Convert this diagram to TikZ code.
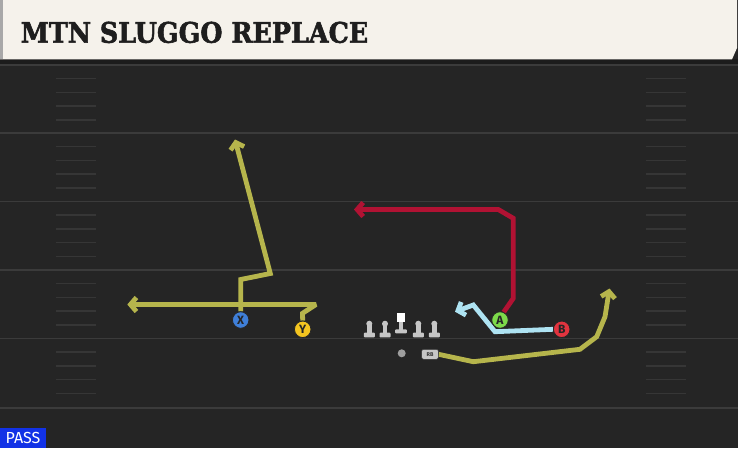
\documentclass[tikz,border=0pt]{standalone}
\usepackage{fontspec}
\setmainfont{DejaVu Serif}
\newfontfamily\titlefont{DejaVu Serif}[BoldFeatures={FakeBold=2}]
\newfontfamily\labelfont{Fira Sans}
\usetikzlibrary{arrows.meta}
\definecolor{fieldbg}{HTML}{252525}
\definecolor{bandc}{HTML}{1C1C1C}
\definecolor{yardc}{HTML}{3B3B3B}
\definecolor{hashc}{HTML}{363636}
\definecolor{headerc}{HTML}{F5F2EB}
\definecolor{stripc}{HTML}{A8A8A8}
\definecolor{titlec}{HTML}{1E1E1E}
\definecolor{yroute}{HTML}{B6B54C}
\definecolor{rroute}{HTML}{B11233}
\definecolor{broute}{HTML}{AEE3F2}
\definecolor{xblue}{HTML}{3F7FD8}
\definecolor{ygold}{HTML}{F4C520}
\definecolor{agreen}{HTML}{7DDA4A}
\definecolor{bred}{HTML}{E2343F}
\definecolor{olgray}{HTML}{C6C6C6}
\definecolor{passblue}{HTML}{1232E6}
\pgfdeclarelayer{fieldlayer}
\pgfdeclarelayer{routelayer}
\pgfsetlayers{fieldlayer,routelayer,main}
\begin{document}
\begin{tikzpicture}[x=1pt,y=-1pt,
  yardline/.style={draw=yardc,line width=1.6pt},
  hashmark/.style={draw=hashc,line width=1.5pt},
  route/.style={line width=4.8pt,line join=miter,miter limit=2,-{Straight Barb[length=6pt,width=14pt]}},
  player/.style={circle,minimum size=16.5pt,inner sep=0pt,draw=black!85,line width=0.8pt,
    font=\labelfont\bfseries\fontsize{12}{12}\selectfont,text=black!85},
  rbbox/.style={rounded corners=2pt,minimum width=16.7pt,minimum height=10pt,inner sep=0pt,
    fill=olgray,draw=black!80,line width=0.5pt,font=\labelfont\bfseries\fontsize{5.5}{5.5}\selectfont,text=black!80},
  lineman/.pic={
    \fill[olgray] (0,-5.3) circle (3);
    \fill[olgray] (-2.3,-5) rectangle (2.3,4.5);
    \fill[olgray,rounded corners=0.8pt] (-5.5,3.7) rectangle (5.5,8.3);
  },
  centerman/.pic={
    \fill[white] (-4.2,-15.7) rectangle (4.2,-7.3);
    \fill[olgray] (-2.3,-7.3) rectangle (2.3,1);
    \fill[olgray,rounded corners=0.8pt] (-5.8,0.3) rectangle (5.8,4.3);
  }]
\useasboundingbox (0,0) rectangle (738,448);
\begin{pgfonlayer}{fieldlayer}
  \fill[fieldbg] (0,0) rectangle (738,448);
  \fill[bandc] (0,59) rectangle (738,64);
  \foreach \y in {65,133,201.5,270,338.5,408}
    \draw[yardline] (0,\y) -- (738,\y);
  \foreach \s in {65,133,201.5,270,338.5}
    \foreach \k in {1,2,3,4} {
      \draw[hashmark] (56,\s+13.7*\k) -- (96,\s+13.7*\k);
      \draw[hashmark] (646,\s+13.7*\k) -- (686,\s+13.7*\k);
    }
  \fill[headerc] (0,0) -- (737,0) -- (737,48) -- (732,59.3) -- (0,59.3) -- cycle;
  \fill[stripc] (0,0) rectangle (3,59.3);
\end{pgfonlayer}

\node[anchor=base west,inner sep=0pt,text=titlec] (title) at (20.5,42.7)
  {\resizebox{347.5pt}{21pt}{\titlefont\bfseries MTN SLUGGO REPLACE}};

% players
\node[player,fill=xblue] (X) at (240.7,320) {X};
\node[player,fill=ygold] (Y) at (302.7,329.3) {Y};
\node[player,fill=agreen] (A) at (500,320) {A};
\node[player,fill=bred] (B) at (561.7,329.3) {B};
\node[circle,fill=olgray!80!black,minimum size=8pt,inner sep=0pt] (QB) at (401.7,353.3) {};
\node[rbbox] (RB) at (430,354.3) {RB};

% line
\pic at (369.3,329) {lineman};
\pic at (385,329) {lineman};
\pic at (401,329) {centerman};
\pic at (418.3,329) {lineman};
\pic at (434.3,329) {lineman};

% routes
\begin{pgfonlayer}{routelayer}
  \draw[route,yroute] (X.north) -- (240.7,279.5) -- (270.3,273.5) -- (235,139.5);
  \draw[route,yroute] (Y.north) -- (302.5,313.3) -- (316,304.5) -- (127.3,304.5);
  \draw[route,rroute] (A.65) -- (513.3,298.3) -- (513.3,218.3) -- (498.3,209.5) -- (354,209.5);
  \draw[route,broute] (B.west) -- (495,331.7) -- (473.3,305) -- (455,311.7);
  \draw[route,yroute] (RB.east) -- (473.3,361.7) -- (580,349.3) -- (596.7,336.7) -- (605,316.7) -- (609.5,288.5);
\end{pgfonlayer}

\node[fill=passblue,text=white,anchor=south west,minimum width=45.7pt,minimum height=20.3pt,
  inner sep=0pt,font=\labelfont\fontsize{16}{16}\selectfont] (pass) at (0,448) {PASS};
\end{tikzpicture}
\end{document}
